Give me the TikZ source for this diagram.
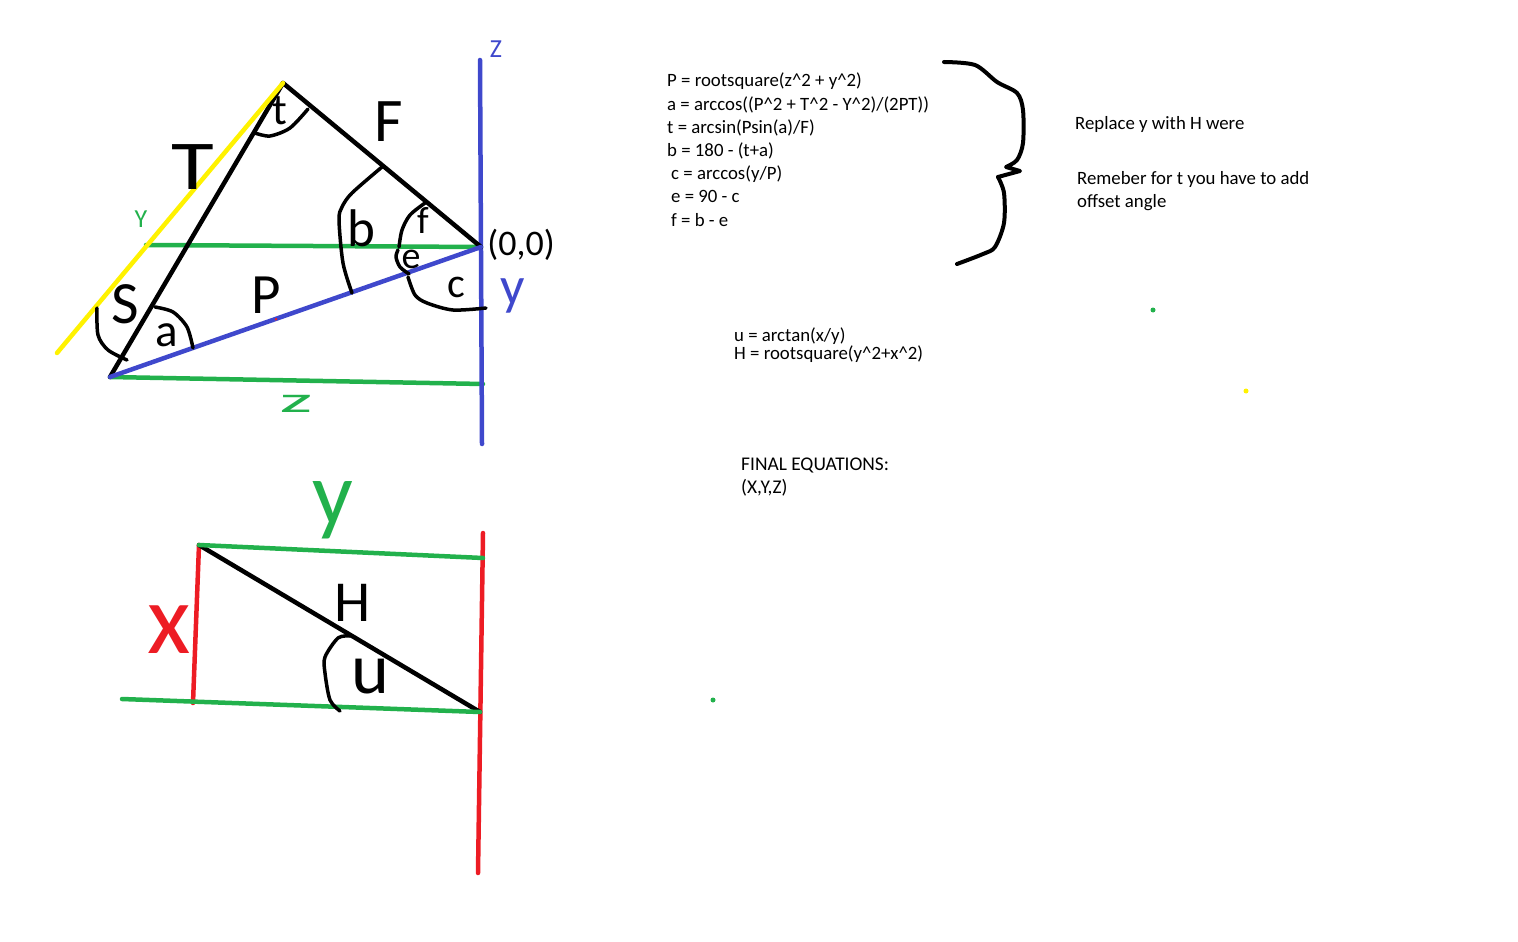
\documentclass[tikz,border=0pt]{standalone}
\usepackage{fontspec}
\setmainfont{Carlito}
\usepackage{tikz}
\definecolor{paintblue}{HTML}{3F48CC}
\definecolor{paintgreen}{HTML}{22B14C}
\definecolor{paintred}{HTML}{ED1C24}
\definecolor{paintyellow}{HTML}{FFF200}
\newcommand{\up}{\textasciicircum}
\tikzset{
    thick line/.style={line width=4.5pt,line cap=round},
    curve line/.style={line width=3.5pt,line cap=round,line join=round},
    hand/.style={inner sep=0pt,font=\fontsize{#1}{#1}\selectfont},
    small text/.style={inner sep=0pt,anchor=base west,align=left,font=\fontsize{18.8}{#1}\selectfont},
    speck/.style={circle,inner sep=0pt,minimum size=#1}
}

\begin{document}
\begin{tikzpicture}[x=1pt,y=-1pt]
    \useasboundingbox (0,0) rectangle (1518,942);
    \coordinate (top) at (283,83);
    \coordinate (left) at (110,377);
    \coordinate (origin) at (481,247);
    \coordinate (yfoot) at (57,353);
    \coordinate (corner) at (199,545);
    \coordinate (bottomend) at (480,712);
    % upper triangle
    \draw[thick line,paintgreen] (146,245) -- (origin);
    \draw[thick line,paintgreen] (left) -- (483,384);
    \draw[thick line,paintblue] (480,60) -- (482,444);
    \draw[thick line,black] (top) -- (left);
    \draw[thick line,black] (top) -- (origin);
    \draw[thick line,paintyellow] (top) -- (yfoot);
    \draw[thick line,paintblue] (left) -- (origin);
    \draw[line width=2pt,paintred] (275,319.5) -- (277,319);
    % angle arcs
    \draw[curve line] plot[smooth] coordinates {(255,133) (270,136) (290,128) (308,109)};
    \draw[curve line] plot[smooth] coordinates {(155,307) (173,312) (187,327) (193,348)};
    \draw[curve line] plot[smooth] coordinates {(97,308) (98,335) (108,350) (127,360)};
    \draw[curve line] plot[smooth] coordinates {(382,167) (352,193) (342,207) (339,220) (343,263) (352,293)};
    \draw[curve line] plot[smooth] coordinates {(425,203) (410,215) (402,230) (399,247)};
    \draw[curve line] plot[smooth] coordinates {(398,250) (396,257) (400,267) (409,274)};
    \draw[curve line] plot[smooth] coordinates {(408,277) (415,295) (427,303) (453,310) (486,308)};
    % lower triangle
    \draw[thick line,paintred] (483,533) -- (478,873);
    \draw[thick line,paintred] (corner) -- (193,703);
    \draw[thick line,black] (corner) -- (bottomend);
    \draw[thick line,paintgreen] (corner) -- (483,558);
    \draw[thick line,paintgreen] (122,699) -- (bottomend);
    \draw[curve line] plot[smooth] coordinates {(350,636) (338,638) (325,657) (325,673) (330,700) (340,711)};
    % brace
    \draw[line width=4pt,line cap=round,line join=round] plot[smooth] coordinates {(944,62) (975,65) (997,82) (1017,93) (1023,110) (1023,143) (1017,160) (1006,167)}
        -- (1020,171) -- (998,177);
    \draw[line width=4pt,line cap=round] plot[smooth] coordinates {(998,177) (1004,193) (1004,223) (995,247) (983,254) (957,264)};
    % hand labels
    \node[hand=70] (lblT) at (193,167) {\scalebox{1.25}[1]{T}};
    \node[hand=60] (lblS) at (125,304) {S};
    \node[hand=47] (lbla) at (167,335) {a};
    \node[hand=44] (lblt) at (280,111) {t};
    \node[hand=57] (lblP) at (266,295) {P};
    \node[hand=62] (lblF) at (389,122) {F};
    \node[hand=53] (lblb) at (361,228) {b};
    \node[hand=38] (lblf) at (423,220) {f};
    \node[hand=38] (lble) at (411,259) {e};
    \node[hand=42] (lblc) at (456,287) {c};
    \node[hand=36] (lblzero) at (521,245) {(0,0)};
    \node[hand=54,paintblue] (lbly) at (513,296) {y};
    \node[hand=36,paintgreen] (lblz) at (296,404) {\scalebox{2.3}[1]{z}};
    \node[hand=90,paintgreen] (lblyy) at (333,510) {y};
    \node[hand=100,paintred] (lblx) at (169,630) {x};
    \node[hand=58] (lblH) at (353,603) {H};
    \node[hand=72] (lblu) at (370,677) {u};
    \node[inner sep=0pt,font=\fontsize{26}{26}\selectfont,paintgreen] (lblY) at (141,219) {Y};
    \node[inner sep=0pt,font=\fontsize{26}{26}\selectfont,paintblue] (lblZ) at (496,49) {Z};
    % typed text
    \node[small text=23.2] (eqs) at (667,226) {P = rootsquare(z\up2 + y\up2)\\
        a = arccos((P\up2 + T\up2 - Y\up2)/(2PT))\\
        t = arcsin(Psin(a)/F)\\
        b = 180 - (t+a)\\
        \hspace{4pt}c = arccos(y/P)\\
        \hspace{4pt}e = 90 - c\\
        \hspace{4pt}f = b - e};
    \node[small text=23] (replace) at (1075,129) {Replace y with H were};
    \node[small text=23] (remember) at (1077,207) {Remeber for t you have to add\\offset angle};
    \node[small text=18] (arctan) at (734,359) {u = arctan(x/y)\\H = rootsquare(y\up2+x\up2)};
    \node[small text=23,font=\fontsize{19.4}{23}\selectfont] (final) at (741,493) {FINAL EQUATIONS:\\(X,Y,Z)};
    % stray dots
    \node[speck=5pt,fill=paintgreen] (dotone) at (1153,310) {};
    \node[speck=5pt,fill=paintyellow] (dottwo) at (1246,391) {};
    \node[speck=5pt,fill=paintgreen] (dotthree) at (713,700) {};
\end{tikzpicture}
\end{document}
